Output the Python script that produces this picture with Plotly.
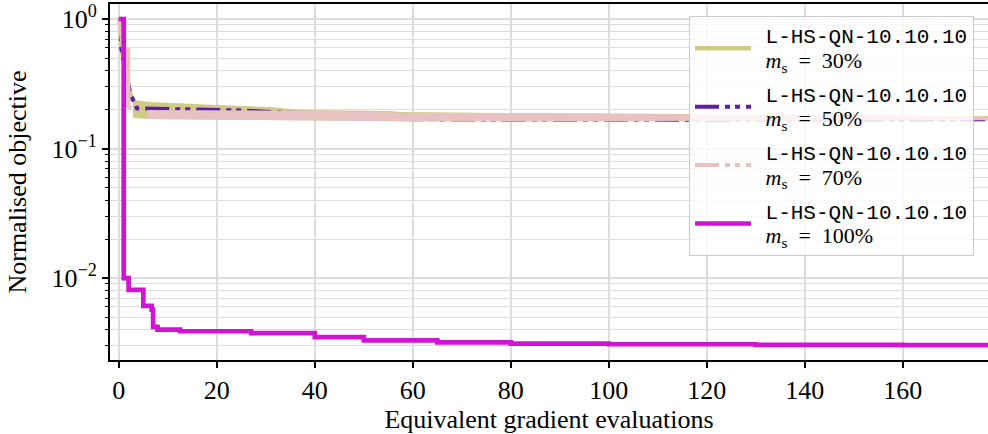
import plotly.graph_objects as go

# ---------------- data ----------------
labels = ["L-HS-QN-10.10.10", "L-HS-QN-10.10.10", "L-HS-QN-10.10.10", "L-HS-QN-10.10.10"]
ms_values = ["30%", "50%", "70%", "100%"]

# m_s = 30% : initial descent, then a noisy band (upper / lower envelope)
k30_x = [0, 0.4, 0.4, 1.6, 2.3, 2.9]
k30_y = [1.0, 1.0, 0.65, 0.34, 0.27, 0.232]
k30_band_x = [2.9, 6.4, 20.1, 30.9, 37.0, 55.4, 57.5, 77.9, 116.7, 150, 177.4]
k30_band_top = [0.2367, 0.2290, 0.2168, 0.2092, 0.1983, 0.1950, 0.1913, 0.1880, 0.1847, 0.181, 0.1782]
k30_band_bot = [0.1720, 0.1690, 0.1670, 0.1660, 0.1650, 0.1640, 0.1630, 0.1625, 0.1625, 0.1630, 0.1640]

# m_s = 50%
p50_x = [0, 0.4, 0.5, 1.7, 2.3, 3.7, 5.5, 15, 25, 35, 45, 60, 80, 120, 177.4]
p50_y = [1.0, 1.0, 0.594, 0.348, 0.267, 0.204, 0.204, 0.200, 0.197, 0.188, 0.174, 0.168, 0.167, 0.167, 0.168]

# m_s = 70% : initial descent, then band
r70_x = [0, 1.0, 1.9, 1.9, 2.6]
r70_y = [1.0, 0.576, 0.576, 0.212, 0.205]
r70_band_x = [5.8, 10, 20, 40, 50, 60, 80, 100, 120, 150, 177.4]
r70_band_top = [0.1983, 0.1983, 0.1983, 0.1960, 0.192, 0.1880, 0.1880, 0.1860, 0.183, 0.178, 0.1766]
r70_band_bot = [0.1690, 0.1670, 0.1660, 0.164, 0.163, 0.162, 0.162, 0.162, 0.163, 0.164, 0.1650]

# m_s = 100%
m100_x = [0, 1.0, 2.0, 5.0, 6.7, 7.0, 7.9, 12.5, 27, 40, 50, 65, 80, 100, 130, 160, 177.4]
m100_y = [1.0, 0.0100, 0.0081, 0.0061, 0.0057, 0.0042, 0.0040, 0.00388, 0.00375, 0.0035, 0.0033,
          0.00318, 0.00312, 0.00308, 0.00305, 0.00303, 0.00302]

x_ticks = [0, 20, 40, 60, 80, 100, 120, 140, 160]
y_ticks = [1, 0.1, 0.01]
y_ticktext = ["10<sup>0</sup>", "10<sup>\u22121</sup>", "10<sup>\u22122</sup>"]
y_minor = [0.003, 0.004, 0.005, 0.006, 0.007, 0.008, 0.009,
           0.02, 0.03, 0.04, 0.05, 0.06, 0.07, 0.08, 0.09,
           0.2, 0.3, 0.4, 0.5, 0.6, 0.7, 0.8, 0.9]

# ---------------- styles ----------------
C_K = "rgb(207,202,133)"
C_P = "rgb(92,30,164)"
C_R = "rgb(232,193,194)"
C_M = "rgb(207,20,212)"
DASH = "24px,6px,5px,5px,5px,6px"
SERIF = "Liberation Serif"
MONO = "Liberation Mono"
FS = 26


def legend_name(i):
    return (f'\u2002<span style="font-family:{MONO};font-size:21px">{labels[i]}</span><br>'
            f'\u2002<span style="font-size:22px"><i>m</i><sub>s</sub>\u2002=\u2002{ms_values[i]}</span>')


fig = go.Figure()

# 30% band
fig.add_trace(go.Scatter(x=k30_band_x + k30_band_x[::-1], y=k30_band_top + k30_band_bot[::-1],
                         fill="toself", fillcolor=C_K, line=dict(width=0), mode="lines",
                         showlegend=False, hoverinfo="skip"))
fig.add_trace(go.Scatter(x=k30_x, y=k30_y, mode="lines", line=dict(color=C_K, width=4.5),
                         name=legend_name(0), legendgroup="g1"))
# 50%
fig.add_trace(go.Scatter(x=p50_x, y=p50_y, mode="lines", line=dict(color=C_P, width=4, dash=DASH),
                         name=legend_name(1), legendgroup="g2"))
# 70%
fig.add_trace(go.Scatter(x=r70_band_x + r70_band_x[::-1], y=r70_band_top + r70_band_bot[::-1],
                         fill="toself", fillcolor=C_R, line=dict(width=0), mode="lines",
                         showlegend=False, hoverinfo="skip"))
fig.add_trace(go.Scatter(x=r70_x, y=r70_y, mode="lines", line=dict(color=C_R, width=4.5),
                         showlegend=False))
fig.add_trace(go.Scatter(x=[None], y=[None], mode="lines", line=dict(color=C_R, width=4, dash=DASH),
                         name=legend_name(2), legendgroup="g3"))
# 100%
fig.add_trace(go.Scatter(x=m100_x, y=m100_y, mode="lines", line=dict(color=C_M, width=4.7, shape="hv"),
                         name=legend_name(3), legendgroup="g4"))

axis_common = dict(showline=True, linecolor="black", linewidth=2,
                   ticks="outside", tickcolor="black", tickwidth=1.5, ticklen=6,
                   showgrid=True, gridcolor="#dcdcdc", gridwidth=1.5, zeroline=False,
                   tickfont=dict(family=SERIF, size=FS, color="black"))

fig.update_layout(
    width=988, height=434,
    margin=dict(l=110, r=0, t=4, b=74),
    paper_bgcolor="white", plot_bgcolor="white",
    font=dict(family=SERIF, size=FS, color="black"),
    xaxis=dict(range=[-1.8, 177.4], tickvals=x_ticks, mirror=True,
               title=dict(text="Equivalent gradient evaluations", font=dict(family=SERIF, size=FS), standoff=6),
               **axis_common),
    yaxis=dict(type="log", range=[-2.633, 0.116], tickvals=y_ticks, ticktext=y_ticktext, mirror=False,
               minor=dict(tickvals=y_minor, ticks="outside", ticklen=3.5, tickwidth=1.2, tickcolor="black",
                          showgrid=True, gridcolor="#dcdcdc", gridwidth=1.2),
               title=dict(text="Normalised objective", font=dict(family=SERIF, size=FS), standoff=17),
               **axis_common),
    legend=dict(x=0.6595, y=0.966, xanchor="left", yanchor="top",
                bgcolor="rgba(255,255,255,0.8)", bordercolor="#cccccc", borderwidth=1,
                font=dict(family=SERIF, size=19, color="black"), itemwidth=56,
                traceorder="grouped", tracegroupgap=6),
    showlegend=True,
)

fig.write_html("out.html")
